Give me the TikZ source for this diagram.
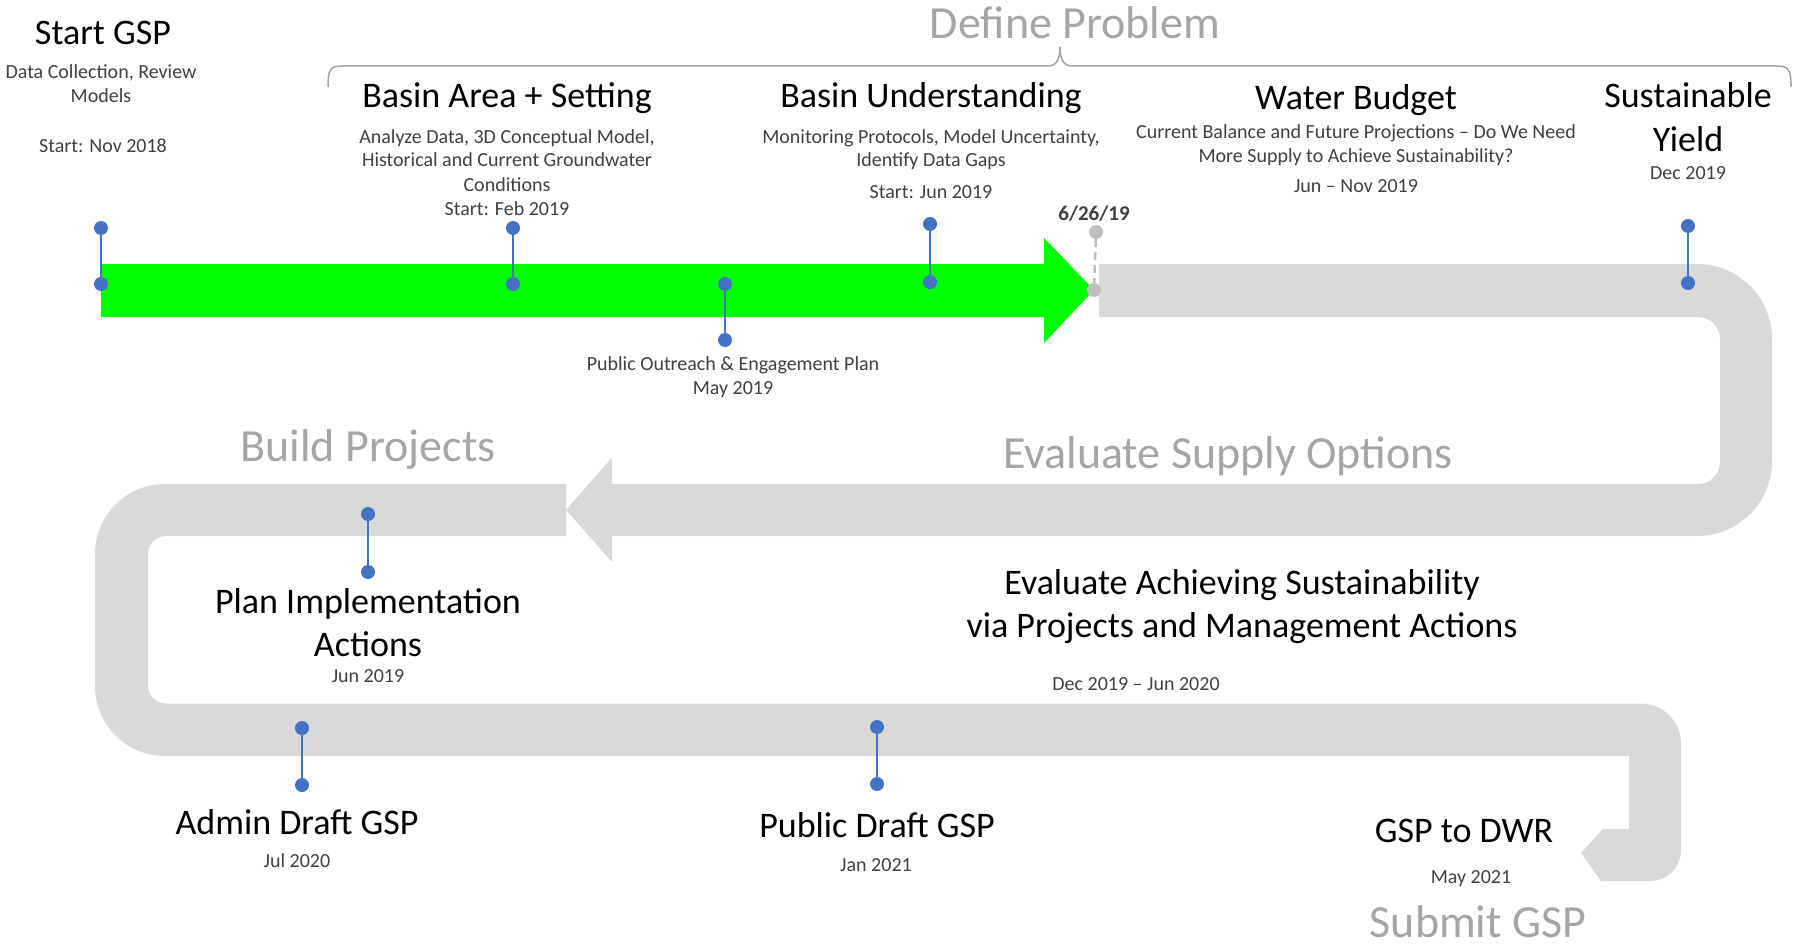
\documentclass[tikz,border=0pt]{standalone}
\usepackage{fontspec}
\setmainfont{Carlito}
\definecolor{txtgray}{HTML}{404040}
\definecolor{biggray}{HTML}{A6A6A6}
\definecolor{bandgray}{HTML}{D9D9D9}
\definecolor{dotblue}{HTML}{4472C4}
\definecolor{dotgray}{HTML}{BFBFBF}
\definecolor{brgreen}{HTML}{00FF00}
\tikzset{
  hdtxt/.style={anchor=base, inner sep=0pt, font=\fontsize{36}{43}\selectfont, text=black},
  smtxt/.style={anchor=base, inner sep=0pt, font=\fontsize{20}{24}\selectfont, text=txtgray},
  bigtxt/.style={anchor=base, inner sep=0pt, font=\fontsize{46}{55}\selectfont, text=biggray},
  bdot/.style={circle, fill=dotblue, inner sep=0pt, minimum size=14pt},
  gdot/.style={circle, fill=dotgray, inner sep=0pt, minimum size=14pt},
  bstem/.style={draw=dotblue, line width=2.5pt},
  gstem/.style={draw=dotgray, line width=2.5pt, dash pattern=on 8pt off 5pt},
}
\begin{document}
\begin{tikzpicture}[x=1pt, y=-1pt]
\useasboundingbox (0,0) rectangle (1796,947);

% gray band: top, right turn, middle band with left arrowhead
\fill[bandgray] (1099,264) -- (1697,264) arc[start angle=-90, end angle=0, radius=75]
  -- (1772,461) arc[start angle=0, end angle=90, radius=75]
  -- (612,536) -- (612,562) -- (566,510) -- (612,457.5) -- (612,484)
  -- (1698,484) arc[start angle=90, end angle=0, radius=22]
  -- (1720,339) arc[start angle=0, end angle=-90, radius=22]
  -- (1099,317) -- cycle;

% gray band: left loop, lower band, final turn
\fill[bandgray] (566,484) -- (165,484) arc[start angle=-90, end angle=-180, radius=70]
  -- (95,686) arc[start angle=180, end angle=90, radius=70]
  -- (1629,756) -- (1629,829) -- (1603,829) -- (1581,853) -- (1601,881)
  -- (1650,881) arc[start angle=90, end angle=0, radius=31]
  -- (1681,743.5) arc[start angle=0, end angle=-90, radius=40]
  -- (166,703.5) arc[start angle=90, end angle=180, radius=18]
  -- (148,554) arc[start angle=180, end angle=270, radius=18]
  -- (566,536) -- cycle;

% green arrow
\fill[brgreen] (101,264) -- (1044,264) -- (1044,238) -- (1094,290) -- (1044,343)
  -- (1044,317) -- (101,317) -- cycle;

% bracket
\draw[biggray, line width=1.5pt] (328,87) .. controls (328,70) and (330,66) .. (342,66)
  -- (1048,66) .. controls (1056,66) and (1060,60) .. (1060,47)
  .. controls (1060,60) and (1064,66) .. (1072,66)
  -- (1777,66) .. controls (1789,66) and (1791,70) .. (1791,87);

% milestone pins
\node[bdot] (p1a) at (101,228) {}; \node[bdot] (p1b) at (101,284) {};
\node[bdot] (p2a) at (513,228) {}; \node[bdot] (p2b) at (513,284) {};
\node[bdot] (p3a) at (725,284) {}; \node[bdot] (p3b) at (725,340) {};
\node[bdot] (p4a) at (930,224) {}; \node[bdot] (p4b) at (930,282) {};
\node[bdot] (p5a) at (1688,226) {}; \node[bdot] (p5b) at (1688,283) {};
\node[bdot] (p6a) at (368,514) {}; \node[bdot] (p6b) at (368,572) {};
\node[bdot] (p7a) at (302,728) {}; \node[bdot] (p7b) at (302,785) {};
\node[bdot] (p8a) at (877,727) {}; \node[bdot] (p8b) at (877,784) {};
\node[gdot] (g1a) at (1096,232) {}; \node[gdot] (g1b) at (1094,290) {};
\draw[bstem] (p1a) -- (p1b);
\draw[bstem] (p2a) -- (p2b);
\draw[bstem] (p3a) -- (p3b);
\draw[bstem] (p4a) -- (p4b);
\draw[bstem] (p5a) -- (p5b);
\draw[bstem] (p6a) -- (p6b);
\draw[bstem] (p7a) -- (p7b);
\draw[bstem] (p8a) -- (p8b);
\draw[gstem] (g1a) -- (g1b);

% phase titles
\node[bigtxt] (tDefine) at (1075,39) {Define Problem};
\node[bigtxt] (tEval) at (1228,468) {Evaluate Supply Options};
\node[bigtxt] (tBuild) at (368,461) {Build Projects};
\node[bigtxt] (tSubmit) at (1478,937) {Submit GSP};

% Start GSP
\node[hdtxt] (h1) at (103,45) {Start GSP};
\node[smtxt] (s1a) at (101,79) {Data Collection, Review};
\node[smtxt] (s1b) at (101,103) {Models};
\node[smtxt] (s1c) at (103,153) {Start: Nov 2018};

% Basin Area + Setting
\node[hdtxt] (h2) at (507,108) {Basin Area + Setting};
\node[smtxt] (s2a) at (507,143) {Analyze Data, 3D Conceptual Model,};
\node[smtxt] (s2b) at (507,167) {Historical and Current Groundwater};
\node[smtxt] (s2c) at (507,191) {Conditions};
\node[smtxt] (s2d) at (507,215) {Start: Feb 2019};

% Basin Understanding
\node[hdtxt] (h3) at (931,108) {Basin Understanding};
\node[smtxt] (s3a) at (931,143) {Monitoring Protocols, Model Uncertainty,};
\node[smtxt] (s3b) at (931,167) {Identify Data Gaps};
\node[smtxt] (s3c) at (931,198) {Start: Jun 2019};

% Water Budget
\node[hdtxt] (h4) at (1356,110) {Water Budget};
\node[smtxt] (s4a) at (1356,139) {Current Balance and Future Projections – Do We Need};
\node[smtxt] (s4b) at (1356,163) {More Supply to Achieve Sustainability?};
\node[smtxt] (s4c) at (1356,192) {Jun – Nov 2019};

% Sustainable Yield
\node[hdtxt] (h5a) at (1688,108) {Sustainable};
\node[hdtxt] (h5b) at (1688,152) {Yield};
\node[smtxt] (s5) at (1688,179) {Dec 2019};

% 6/26/19
\node[smtxt, font=\fontsize{21}{25}\selectfont\bfseries] (d626) at (1094,220) {6/26/19};

% Public Outreach
\node[smtxt] (s6a) at (733,370) {Public Outreach \& Engagement Plan};
\node[smtxt] (s6b) at (733,394) {May 2019};

% Evaluate Achieving Sustainability
\node[hdtxt] (h7a) at (1242,594) {Evaluate Achieving Sustainability};
\node[hdtxt] (h7b) at (1242,637) {via Projects and Management Actions};
\node[smtxt] (s7) at (1136,690) {Dec 2019 – Jun 2020};

% Plan Implementation Actions
\node[hdtxt] (h8a) at (368,613) {Plan Implementation};
\node[hdtxt] (h8b) at (368,656) {Actions};
\node[smtxt] (s8) at (368,682) {Jun 2019};

% Admin Draft GSP
\node[hdtxt] (h9) at (297,834) {Admin Draft GSP};
\node[smtxt] (s9) at (297,867) {Jul 2020};

% Public Draft GSP
\node[hdtxt] (h10) at (877,837) {Public Draft GSP};
\node[smtxt] (s10) at (876,871) {Jan 2021};

% GSP to DWR
\node[hdtxt] (h11) at (1464,842) {GSP to DWR};
\node[smtxt] (s11) at (1471,883) {May 2021};
\end{tikzpicture}
\end{document}
